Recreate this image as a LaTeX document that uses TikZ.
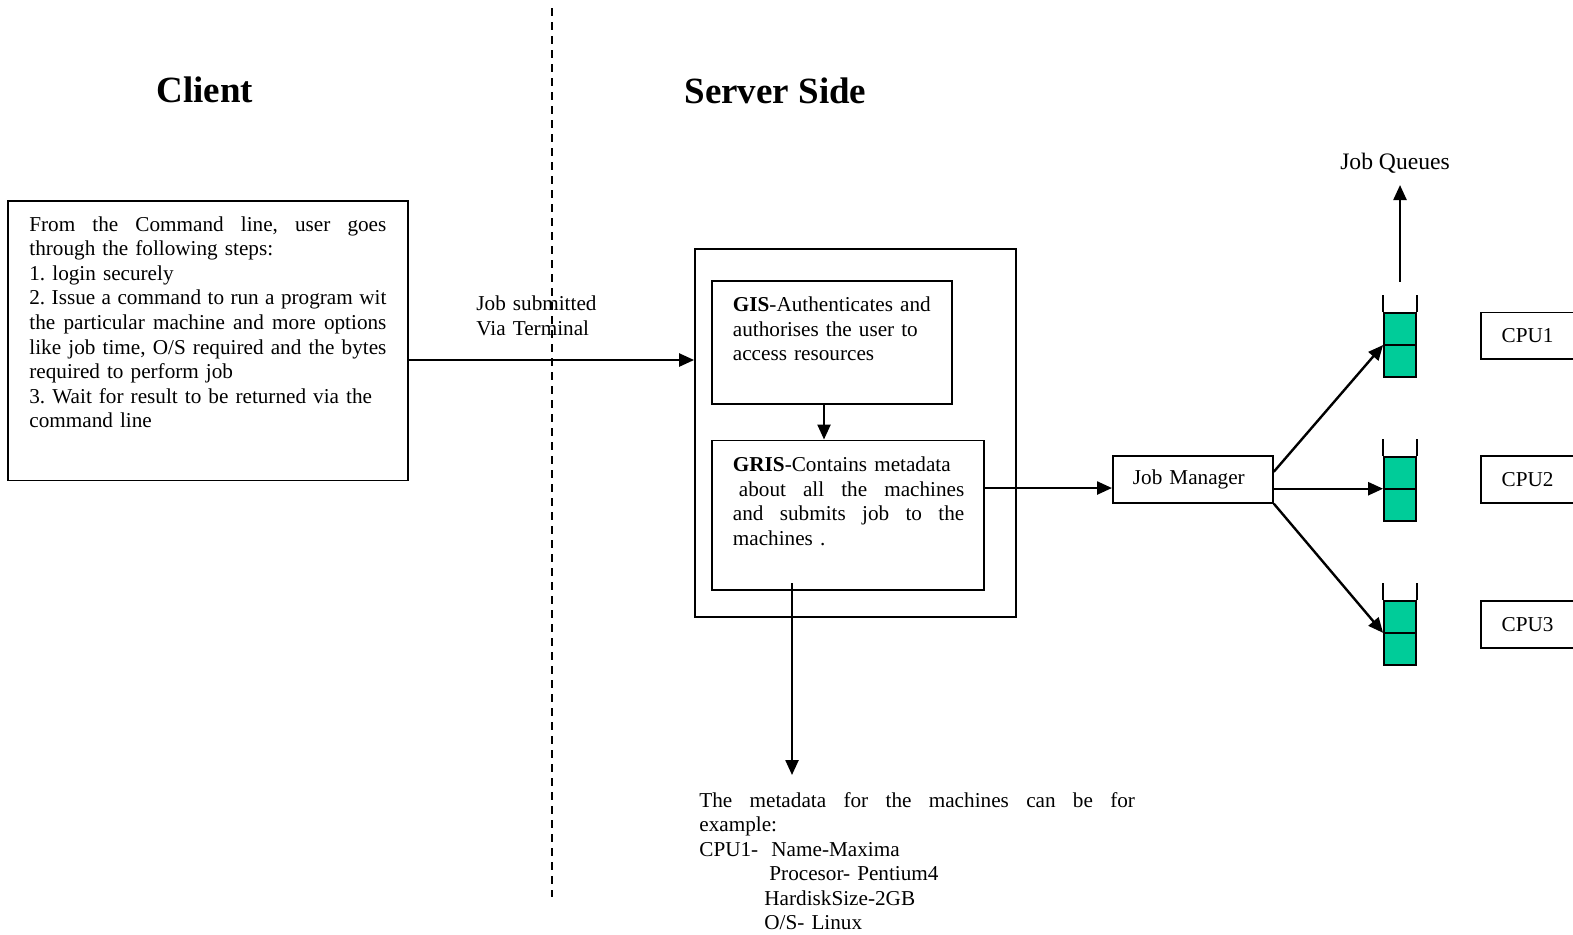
\documentclass[tikz,border=0pt]{standalone}
\usepackage{fontspec}
\setmainfont{Liberation Serif}
\usetikzlibrary{arrows.meta,calc}

% a line of text spread over a given width, its word gaps all equal
\newcommand\jline[2]{\leavevmode\hbox to #1{\spaceskip=0pt plus 1fil\relax #2}}

\definecolor{queuegreen}{HTML}{00CC99}

\begin{document}
\frenchspacing
\begin{tikzpicture}[x=0.5pt,y=-0.5pt,
  box/.style={draw, line width=0.9pt, inner sep=0pt, rectangle},
  labelbox/.style={box, anchor=west, inner xsep=10pt, inner ysep=0pt,
    text width=60pt, align=left, minimum height=23.4pt,
    font=\fontsize{10.6}{12.3}\selectfont},
  txt/.style={inner sep=0pt, anchor=base west, align=left,
    font=\fontsize{10.6}{12.3}\selectfont},
  head/.style={inner sep=0pt, anchor=base,
    font=\fontsize{18.5}{22}\selectfont\bfseries},
  arr/.style={line width=1.2pt, -{Triangle[length=7.5pt,width=6.5pt]}},
  queue/.style={draw, line width=0.9pt, fill=queuegreen, inner sep=0pt,
    minimum width=16pt, minimum height=32pt},
  thin/.style={line width=0.9pt},
]
\clip (0,0) rectangle (1573,934);

% headings
\node[head] (clienthead) at (204.6,102.3) {Client};
\node[head] (serverhead) at (775.4,103.3) {Server Side};

% client / server divider
\coordinate (divtop) at (552,8);
\coordinate (divbot) at (552,897);
\draw[line width=0.8pt, dash pattern=on 4pt off 3pt] (divtop) -- (divbot);

% client box
\node[box, minimum width=200.15pt, minimum height=139.95pt] (client) at (208.15,340.55) {};
\node[txt, text width=178.5pt] (clienttxt) at (29,231) {%
\jline{178.5pt}{From the Command line, user goes}\\
through the following steps:\\
1. login securely\\
\jline{178.5pt}{2. Issue a command to run a program wit}\\
\jline{178.5pt}{the particular machine and more options}\\
\jline{178.5pt}{like job time, O/S required and the bytes}\\
required to perform job\\
3. Wait for result to be returned via the\\
command line};

% server side
\node[box, minimum width=160.5pt, minimum height=183.85pt] (server) at (855.5,432.85) {};
\node[box, minimum width=120pt, minimum height=61.5pt] (gis) at (832,342.5) {};
\node[txt, text width=110pt] (gistxt) at (732.5,311.5) {%
\textbf{GIS}-Authenticates and\\
authorises the user to\\
access resources};
\node[box, minimum width=136pt, minimum height=74.8pt] (gris) at (848,515.2) {};
\node[txt, text width=115.7pt] (gristxt) at (732.5,471.5) {%
\textbf{GRIS}-Contains metadata\\
\jline{115.7pt}{\hspace{3pt}about all the machines}\\
\jline{115.7pt}{and submits job to the}\\
machines .};

% job submission
\node[txt, text width=70pt] (sublbl) at (476,310.5) {Job submitted\\ Via Terminal};
\coordinate (subst) at ([yshift=-9.725pt]client.east);
\draw[arr] (subst) -- (subst -| server.west);

\coordinate (gg) at ([xshift=-4pt]gis.south);
\draw[arr] (gg) -- (gg |- gris.north);

% job manager and queues
\node[labelbox] (jm) at (1112,479.35) {Job Manager};
\coordinate (gj) at ([yshift=13.6pt]gris.east);
\draw[arr] (gj) -- (gj -| jm.west);

\node[queue] (q1) at (1400,345) {};
\node[queue] (q2) at (1400,488.7) {};
\node[queue] (q3) at (1400,632.85) {};
\foreach \q in {q1,q2,q3}{
  \draw[thin] (\q.west) -- (\q.east);
  \draw[thin] (\q.north west) -- ++(0,-17);
  \draw[thin] (\q.north east) -- ++(0,-17);
}

\draw[arr] ([yshift=3.8pt]jm.east) -- (q1.west);
\draw[arr] (jm.east |- q2.west) -- (q2.west);
\draw[arr] (jm.south east) -- (q3.west);

\node[inner sep=0pt, anchor=base, font=\fontsize{11.8}{14}\selectfont] (jq) at (1395,169.5) {Job Queues};
\coordinate (jqfoot) at (1400,281.7);
\coordinate (jqtip) at (1400,185);
\draw[arr] (jqfoot) -- (jqtip);

% processors
\node[labelbox, inner xsep=10.35pt] (cpu1) at (1480,335.8) {CPU1};
\node[labelbox, inner xsep=10.35pt] (cpu2) at (1480,479.5) {CPU2};
\node[labelbox, inner xsep=10.35pt] (cpu3) at (1480,624.2) {CPU3};

% metadata example
\coordinate (metafoot) at (792,583);
\coordinate (metatip) at (792,775);
\draw[arr] (metafoot) -- (metatip);
\node[txt, text width=217.8pt, font=\fontsize{10.6}{12.2}\selectfont] (meta) at (699,807.5) {%
\jline{217.8pt}{The metadata for the machines can be for}\\
example:\\
\makebox[36pt][l]{CPU1-}Name-Maxima\\
\hspace*{35pt}Procesor- Pentium4\\
\hspace*{32.5pt}HardiskSize-2GB\\
\hspace*{32.5pt}O/S- Linux};
\end{tikzpicture}
\end{document}
